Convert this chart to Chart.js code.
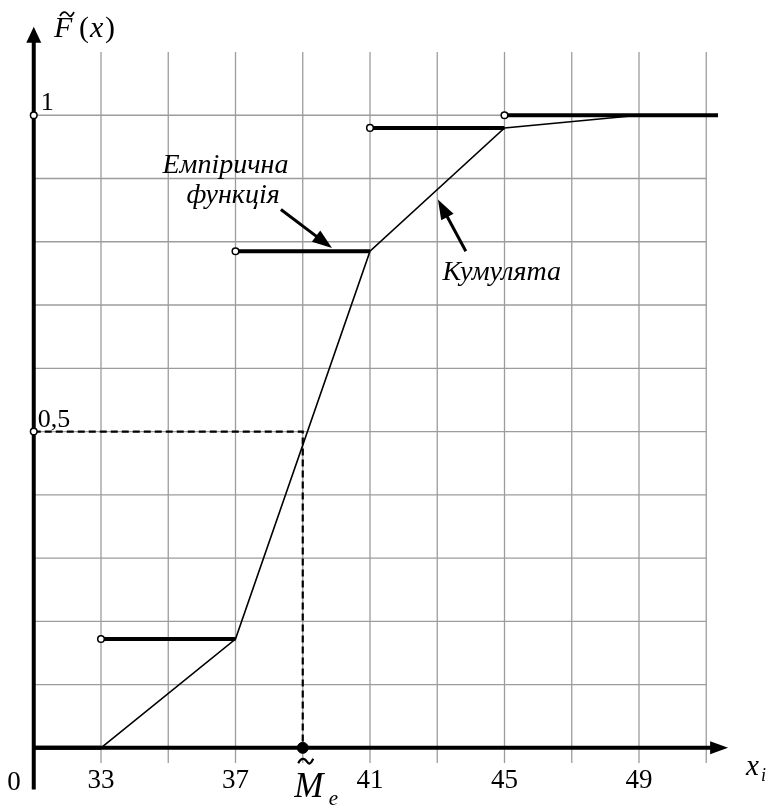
<!DOCTYPE html>
<html>
<head>
<meta charset="utf-8">
<script src="https://cdn.jsdelivr.net/npm/chart.js@4.4.1/dist/chart.umd.min.js"></script>
<style>
    body { margin: 0; background: #fff; }
    #wrap { width: 775px; height: 806px; }
</style>
</head>
<body>
<div id="wrap"><canvas id="cdf" width="775" height="806"></canvas></div>
<script>
// Grid and tick values
const xGrid = [33, 35, 37, 39, 41, 43, 45, 47, 49, 51];
const yGrid = [0.1, 0.2, 0.3, 0.4, 0.5, 0.6, 0.7, 0.8, 0.9, 1.0];
const xTickLabels = [33, 37, 41, 45, 49];
const yMarkValues = [1, 0.5];
const yMarkLabels = ['1', '0,5'];

// Empirical distribution function (steps)
const stepStarts = [31, 33, 37, 41, 45];
const stepEnds = [33, 37, 41, 45, 51.35];
const stepValues = [0, 0.172, 0.785, 0.98, 1];

// Cumulative curve
const cumX = [33, 37, 41, 45, 49];
const cumY = [0, 0.172, 0.785, 0.98, 1];

// Median
const median = 39;
const medianLevel = 0.5;

// Axis extents (data units)
const axisXRange = [30.95, 51.65];
const axisYRange = [-0.066, 1.14];

const serif = '"Liberation Serif", "DejaVu Serif", serif';

// build step segments with gaps
const stepData = [];
stepStarts.forEach((s, i) => {
    stepData.push({ x: s, y: stepValues[i] });
    stepData.push({ x: stepEnds[i], y: stepValues[i] });
    stepData.push({ x: stepEnds[i], y: null });
});

const openSteps = stepStarts.slice(1).map((s, i) => ({ x: s, y: stepValues[i + 1] }));
const openAxis = yMarkValues.map(v => ({ x: 31, y: v }));

function arrowHead(ctx, x1, y1, x2, y2, len, half) {
    const a = Math.atan2(y2 - y1, x2 - x1);
    ctx.beginPath();
    ctx.moveTo(x2, y2);
    ctx.lineTo(x2 - len * Math.cos(a) + half * Math.sin(a), y2 - len * Math.sin(a) - half * Math.cos(a));
    ctx.lineTo(x2 - len * Math.cos(a) - half * Math.sin(a), y2 - len * Math.sin(a) + half * Math.cos(a));
    ctx.closePath();
    ctx.fill();
}

function tilde(ctx, cx, cy, w, h) {
    ctx.beginPath();
    ctx.moveTo(cx - w / 2, cy + h / 2);
    ctx.bezierCurveTo(cx - w / 4, cy - h * 1.2, cx, cy - h * 0.2, cx + w * 0.05, cy);
    ctx.bezierCurveTo(cx + w * 0.15, cy + h * 0.5, cx + w / 4, cy + h * 1.2, cx + w / 2, cy - h / 2);
    ctx.stroke();
}

const decorPlugin = {
    id: 'decor',
    beforeDatasetsDraw(chart) {
        const ctx = chart.ctx;
        const xs = chart.scales.x, ys = chart.scales.y;
        const area = chart.chartArea;
        ctx.save();
        // grid
        ctx.strokeStyle = '#9c9c9c';
        ctx.lineWidth = 1.3;
        xGrid.forEach(v => {
            const px = xs.getPixelForValue(v);
            ctx.beginPath();
            ctx.moveTo(px, area.top);
            ctx.lineTo(px, area.bottom);
            ctx.stroke();
        });
        yGrid.forEach(v => {
            const py = ys.getPixelForValue(v);
            ctx.beginPath();
            ctx.moveTo(xs.getPixelForValue(31), py);
            ctx.lineTo(area.right, py);
            ctx.stroke();
        });
        // axes
        ctx.strokeStyle = '#000';
        ctx.fillStyle = '#000';
        ctx.lineWidth = 4;
        const x0 = xs.getPixelForValue(31), y0 = ys.getPixelForValue(0);
        const xEnd = xs.getPixelForValue(axisXRange[1]);
        ctx.beginPath();
        ctx.moveTo(xs.getPixelForValue(axisXRange[0]), y0);
        ctx.lineTo(xEnd - 10, y0);
        ctx.stroke();
        arrowHead(ctx, x0, y0, xEnd, y0, 18, 6.5);
        const yEnd = ys.getPixelForValue(axisYRange[1]);
        ctx.beginPath();
        ctx.moveTo(x0, ys.getPixelForValue(axisYRange[0]));
        ctx.lineTo(x0, yEnd + 10);
        ctx.stroke();
        arrowHead(ctx, x0, y0, x0, yEnd, 16, 7.5);
        ctx.restore();
    },
    afterDraw(chart) {
        const ctx = chart.ctx;
        const xs = chart.scales.x, ys = chart.scales.y;
        const y0 = ys.getPixelForValue(0);
        ctx.save();
        ctx.fillStyle = '#000';
        ctx.strokeStyle = '#000';
        ctx.textBaseline = 'alphabetic';

        // tick labels
        ctx.font = '27px ' + serif;
        ctx.textAlign = 'center';
        xTickLabels.forEach(v => ctx.fillText(String(v), xs.getPixelForValue(v), y0 + 40));
        ctx.fillText('0', 14, y0 + 42);
        ctx.textAlign = 'left';
        ctx.font = '26px ' + serif;
        yMarkLabels.forEach((t, i) => {
            ctx.fillText(t, xs.getPixelForValue(31) + (i === 0 ? 7 : 4), ys.getPixelForValue(yMarkValues[i]) - 5);
        });

        // F~(x)
        ctx.font = 'italic 30px ' + serif;
        ctx.fillText('F', 54, 37);
        ctx.font = '30px ' + serif;
        ctx.fillText('(', 79, 37);
        ctx.font = 'italic 30px ' + serif;
        ctx.fillText('x', 90, 37);
        ctx.font = '30px ' + serif;
        ctx.fillText(')', 105, 37);
        ctx.lineWidth = 1.7;
        tilde(ctx, 67, 14, 14, 4);

        // x_i
        ctx.font = 'italic 29px ' + serif;
        ctx.fillText('x', 746, 775);
        ctx.font = 'italic 18px ' + serif;
        ctx.fillText('i', 761, 781);

        // M~_e
        const mx = xs.getPixelForValue(median);
        ctx.font = 'italic 35px ' + serif;
        ctx.textAlign = 'center';
        ctx.fillText('M', mx + 6, 797);
        ctx.lineWidth = 2.2;
        tilde(ctx, mx + 3, 761, 15, 4.5);
        ctx.font = 'italic 21px ' + serif;
        ctx.textAlign = 'left';
        ctx.fillText('e', mx + 26, 805);

        // annotations
        ctx.font = 'italic 28px ' + serif;
        ctx.textAlign = 'center';
        ctx.fillText('Емпірична', xs.getPixelForValue(36.7), ys.getPixelForValue(0.908));
        ctx.fillText('функція', xs.getPixelForValue(36.93), ys.getPixelForValue(0.862));
        ctx.fillText('Кумулята', xs.getPixelForValue(44.92), ys.getPixelForValue(0.74));

        ctx.lineWidth = 3;
        const drawArrow = (fx, fy, tx, ty) => {
            const x1 = xs.getPixelForValue(fx), y1 = ys.getPixelForValue(fy);
            const x2 = xs.getPixelForValue(tx), y2 = ys.getPixelForValue(ty);
            const a = Math.atan2(y2 - y1, x2 - x1);
            ctx.beginPath();
            ctx.moveTo(x1, y1);
            ctx.lineTo(x2 - 12 * Math.cos(a), y2 - 12 * Math.sin(a));
            ctx.stroke();
            arrowHead(ctx, x1, y1, x2, y2, 20, 7);
        };
        drawArrow(38.35, 0.851, 39.87, 0.790);
        drawArrow(43.85, 0.785, 43.02, 0.867);
        ctx.restore();
    }
};

new Chart(document.getElementById('cdf'), {
    type: 'scatter',
    data: {
        datasets: [
            {
                label: 'median point',
                data: [{ x: median, y: 0 }],
                pointRadius: 5.5,
                pointBackgroundColor: '#000',
                pointBorderColor: '#000',
                showLine: false,
                clip: false
            },
            {
                label: 'open circles',
                data: openSteps.concat(openAxis),
                pointRadius: 3.3,
                pointBackgroundColor: '#fff',
                pointBorderColor: '#000',
                pointBorderWidth: 1.5,
                showLine: false,
                clip: false
            },
            {
                label: 'Емпірична функція',
                data: stepData,
                showLine: true,
                spanGaps: false,
                borderColor: '#000',
                borderWidth: 4,
                pointRadius: 0,
                clip: false
            },
            {
                label: 'Кумулята',
                data: cumX.map((x, i) => ({ x: x, y: cumY[i] })),
                showLine: true,
                borderColor: '#000',
                borderWidth: 1.6,
                pointRadius: 0,
                clip: false
            },
            {
                label: 'median',
                data: [{ x: 31, y: medianLevel }, { x: median, y: medianLevel }, { x: median, y: 0 }],
                showLine: true,
                borderColor: '#000',
                borderWidth: 2.2,
                borderDash: [7, 4],
                pointRadius: 0,
                clip: false
            }
        ]
    },
    options: {
        responsive: false,
        animation: false,
        events: [],
        layout: { padding: { left: 33.75, right: 68.75, top: 52, bottom: 43 } },
        plugins: { legend: { display: false }, tooltip: { enabled: false } },
        scales: {
            x: { type: 'linear', display: false, min: 31, max: 51 },
            y: { type: 'linear', display: false, min: -0.024, max: 1.1 }
        }
    },
    plugins: [decorPlugin]
});
</script>
</body>
</html>
